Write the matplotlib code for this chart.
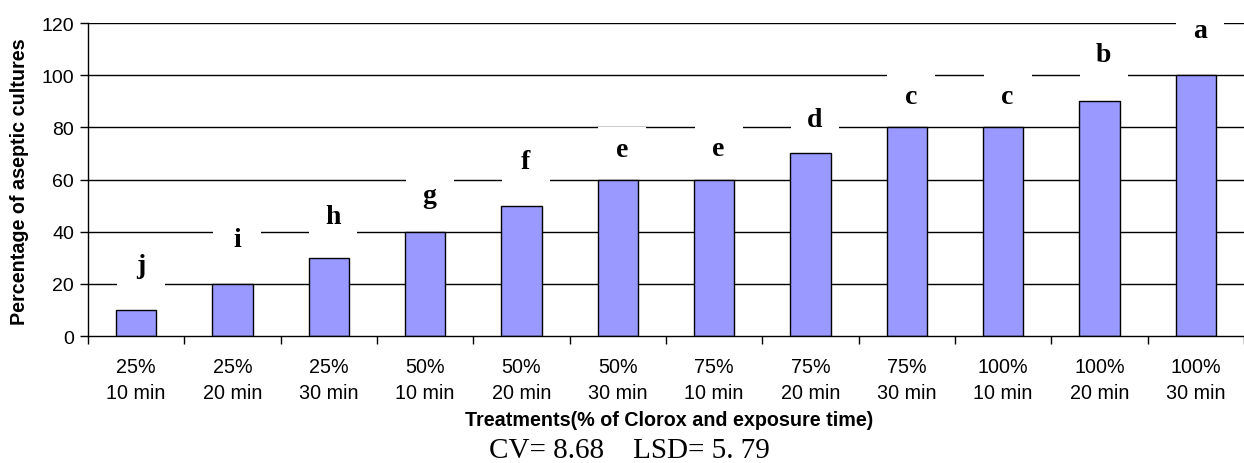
import matplotlib
matplotlib.use("Agg")
import matplotlib.pyplot as plt
from matplotlib.patches import Rectangle
from matplotlib.transforms import ScaledTranslation
import numpy as np

# ---- data ----
concentrations = ["25%", "25%", "25%", "50%", "50%", "50%", "75%", "75%", "75%", "100%", "100%", "100%"]
times = ["10 min", "20 min", "30 min", "10 min", "20 min", "30 min",
         "10 min", "20 min", "30 min", "10 min", "20 min", "30 min"]
values = [10, 20, 30, 40, 50, 60, 60, 70, 80, 80, 90, 100]
letters = ["j", "i", "h", "g", "f", "e", "e", "d", "c", "c", "b", "a"]
# ---- label placement (style) ----
letter_offsets = [17, 17, 16, 14, 17, 11.5, 12, 13, 12, 12, 18, 17]

W, H = 1244, 464
DPI = 100
fig = plt.figure(figsize=(W / DPI, H / DPI), dpi=DPI)
left_px, right_px, top_px, bottom_px = 88, 1244, 24, 337
ax = fig.add_axes([left_px / W, 1 - bottom_px / H,
                   (right_px - left_px) / W, (bottom_px - top_px) / H])

n = len(values)
x = np.arange(n)
cat_w = 97.0
ax.set_xlim(-0.5, -0.5 + (right_px - left_px) / cat_w)
ax.set_ylim(0, 120)

# gridlines
for yv in range(20, 121, 20):
    ax.axhline(yv, color="black", lw=1.0, zorder=1)

ax.bar(x, values, width=0.42, color="#9999FF", edgecolor="black", linewidth=1.0, zorder=2)

box_w, box_h = 48 / DPI, 46 / DPI
for xi, v, lab, off in zip(x, values, letters, letter_offsets):
    lx, ly = xi + 0.045, v + off
    tr = fig.dpi_scale_trans + ScaledTranslation(lx, ly, ax.transData)
    ax.add_patch(Rectangle((-box_w / 2, -box_h / 2), box_w, box_h, transform=tr,
                           facecolor="white", edgecolor="none", zorder=3, clip_on=False))
    ax.text(lx, ly, lab, ha="center", va="center",
            fontsize=20, fontweight="bold", family="Liberation Serif", zorder=4)

for s in ["top", "right"]:
    ax.spines[s].set_visible(False)
ax.spines["left"].set_linewidth(1.0)
ax.spines["bottom"].set_linewidth(1.0)
ax.spines["left"].set_zorder(3)
ax.spines["bottom"].set_zorder(3)

ax.set_yticks(range(0, 121, 20))
ax.tick_params(axis="y", direction="out", length=6, width=1.0, labelsize=14, pad=4)
for t in ax.get_yticklabels():
    t.set_family("Liberation Sans")

ax.set_xticks(np.arange(-0.5, n, 1.0))
ax.set_xticklabels([])
ax.tick_params(axis="x", which="major", direction="out", length=6, width=1.0)
ax.set_xticks(x, minor=True)
ax.set_xticklabels([f"{c}\n{t}" for c, t in zip(concentrations, times)], minor=True,
                   fontsize=14.2, family="Liberation Sans", linespacing=1.45)
ax.tick_params(axis="x", which="minor", length=0, pad=15)

fig.text(20 / W, 1 - 182 / H, "Percentage of aseptic cultures", rotation=90,
         ha="center", va="center", fontsize=14.2, fontweight="bold", family="Liberation Sans")
fig.text(669 / W, 1 - 421 / H, "Treatments(% of Clorox and exposure time)",
         ha="center", va="center", fontsize=14.2, fontweight="bold", family="Liberation Sans")
fig.text(629 / W, 1 - 451 / H, "CV= 8.68    LSD= 5. 79",
         ha="center", va="center", fontsize=21, family="Liberation Serif")

fig.savefig("out.png", dpi=DPI, facecolor="white")
